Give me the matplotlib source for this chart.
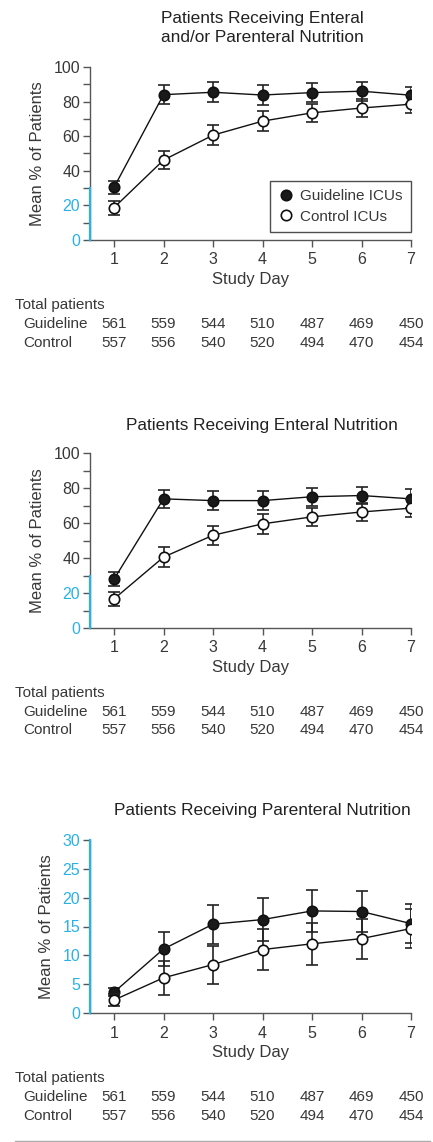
import matplotlib
matplotlib.use('Agg')
import matplotlib.pyplot as plt
import matplotlib.transforms as mtransforms
from matplotlib.lines import Line2D

plt.rcParams['font.family'] = ['Liberation Sans', 'DejaVu Sans']

days = [1, 2, 3, 4, 5, 6, 7]

titles = ['Patients Receiving Enteral\nand/or Parenteral Nutrition',
          'Patients Receiving Enteral Nutrition',
          'Patients Receiving Parenteral Nutrition']

# mean % of patients and error bar half-widths
guide_any = [30.4, 84.0, 85.4, 83.8, 85.2, 86.0, 83.7]
guide_any_err = [3.7, 5.4, 5.7, 6.0, 5.3, 5.4, 5.0]
ctrl_any = [18.7, 46.2, 60.6, 68.7, 73.5, 76.3, 78.5]
ctrl_any_err = [4.0, 5.4, 5.8, 5.9, 5.2, 5.3, 5.3]

guide_ent = [27.9, 73.8, 72.8, 72.8, 75.0, 75.7, 73.8]
guide_ent_err = [4.0, 5.2, 5.5, 5.5, 5.0, 5.0, 5.5]
ctrl_ent = [16.6, 40.5, 53.0, 59.5, 63.5, 66.3, 68.5]
ctrl_ent_err = [4.2, 5.6, 5.3, 5.5, 5.3, 4.9, 5.3]

guide_par = [3.6, 11.1, 15.4, 16.2, 17.7, 17.6, 15.5]
guide_par_err = [0.7, 2.95, 3.4, 3.7, 3.7, 3.6, 3.4]
ctrl_par = [2.25, 6.1, 8.4, 11.0, 12.0, 12.9, 14.65]
ctrl_par_err = [1.1, 2.9, 3.3, 3.6, 3.65, 3.45, 3.4]

guide_n = [561, 559, 544, 510, 487, 469, 450]
ctrl_n = [557, 556, 540, 520, 494, 470, 454]

W, H = 433, 1142
BLUE = '#29b2e6'
GREY = '#555555'
TXT = '#383838'

fig = plt.figure(figsize=(W / 100, H / 100), dpi=100)


def fy(px):
    return 1 - px / H


panels = [
    dict(top=67, bot=240, ymax=100, major=20, minor=10, blue=30,
         g=guide_any, ge=guide_any_err, c=ctrl_any, ce=ctrl_any_err,
         title_y=[18, 38], rows=[305, 324, 343], legend=True),
    dict(top=453, bot=628, ymax=100, major=20, minor=10, blue=30,
         g=guide_ent, ge=guide_ent_err, c=ctrl_ent, ce=ctrl_ent_err,
         title_y=[425], rows=[693, 712, 730], legend=False),
    dict(top=840, bot=1013, ymax=30, major=5, minor=5, blue=30,
         g=guide_par, ge=guide_par_err, c=ctrl_par, ce=ctrl_par_err,
         title_y=[811], rows=[1078, 1097, 1116], legend=False),
]

for p, title in zip(panels, titles):
    ax = fig.add_axes([90 / W, fy(p['bot']), 321 / W, (p['bot'] - p['top']) / H])
    ax.set_xlim(0.515, 7)
    ax.set_ylim(0, p['ymax'])

    kw = dict(color='#111111', ecolor='#222222', lw=1.0, elinewidth=1.2,
              capsize=4.5, capthick=1.2, ms=7.5, marker='o', mec='#111111', mew=1.2)
    ax.errorbar(days, p['g'], yerr=p['ge'], mfc='#1a1a1a', zorder=3, **kw)
    ax.errorbar(days, p['c'], yerr=p['ce'], mfc='white', zorder=4, **kw)

    for s in ['top', 'right']:
        ax.spines[s].set_visible(False)
    for s in ['left', 'bottom']:
        ax.spines[s].set_color(GREY)
        ax.spines[s].set_linewidth(1.0)
    # blue highlighted part of the y axis
    ax.plot([0, 0], [0, p['blue']], transform=ax.get_yaxis_transform(),
            color=BLUE, lw=1.6, clip_on=False, zorder=5)

    ax.set_xticks(days)
    ax.set_yticks(range(0, p['ymax'] + 1, p['major']))
    ax.set_yticks(range(0, p['ymax'] + 1, p['minor']), minor=True)
    ax.tick_params(axis='both', which='both', direction='out', length=5, width=1.0,
                   color=GREY, labelsize=11.5, labelcolor=TXT)
    ax.tick_params(axis='y', pad=2)
    ax.tick_params(axis='x', pad=4)
    for lab, t in zip(ax.get_yticklabels(), ax.get_yticks()):
        if t <= p['blue']:
            lab.set_color(BLUE)
    for tk in ax.yaxis.get_major_ticks() + ax.yaxis.get_minor_ticks():
        if tk.get_loc() <= p['blue']:
            tk.tick1line.set_color(BLUE)

    ax.set_ylabel('Mean % of Patients', fontsize=12, color=TXT, labelpad=6)
    ax.set_xlabel('Study Day', fontsize=12, color=TXT, labelpad=3)

    for line, ty in zip(title.split('\n'), p['title_y']):
        fig.text(262 / W, fy(ty), line, ha='center', va='center', fontsize=12.4, color='#222222')

    if p['legend']:
        handles = [Line2D([], [], ls='none', marker='o', ms=7.5, mfc='#1a1a1a', mec='#111111', mew=1.2),
                   Line2D([], [], ls='none', marker='o', ms=7.5, mfc='white', mec='#111111', mew=1.2)]
        leg = ax.legend(handles, ['Guideline ICUs', 'Control ICUs'], loc='lower right',
                        bbox_to_anchor=(1.0, 0.045), frameon=True, fancybox=False,
                        fontsize=11, borderaxespad=0, handlelength=1.0,
                        handletextpad=0.4, borderpad=0.55, labelspacing=0.45)
        leg.get_frame().set_edgecolor('#222222')
        leg.get_frame().set_linewidth(1.0)
        for t in leg.get_texts():
            t.set_color(TXT)

    trans = mtransforms.blended_transform_factory(ax.transData, fig.transFigure)
    fig.text(15 / W, fy(p['rows'][0]), 'Total patients', ha='left', va='center',
             fontsize=11, color=TXT)
    fig.text(23 / W, fy(p['rows'][1]), 'Guideline', ha='left', va='center',
             fontsize=11, color=TXT)
    fig.text(23 / W, fy(p['rows'][2]), 'Control', ha='left', va='center',
             fontsize=11, color=TXT)
    for d, ng, nc in zip(days, guide_n, ctrl_n):
        ax.text(d, fy(p['rows'][1]), str(ng), transform=trans, ha='center', va='center',
                fontsize=11, color=TXT, clip_on=False)
        ax.text(d, fy(p['rows'][2]), str(nc), transform=trans, ha='center', va='center',
                fontsize=11, color=TXT, clip_on=False)

fig.add_artist(Line2D([15 / W, 430 / W], [fy(1141), fy(1141)], color='#aaaaaa', lw=1.0))

fig.savefig('out.png', dpi=100)
